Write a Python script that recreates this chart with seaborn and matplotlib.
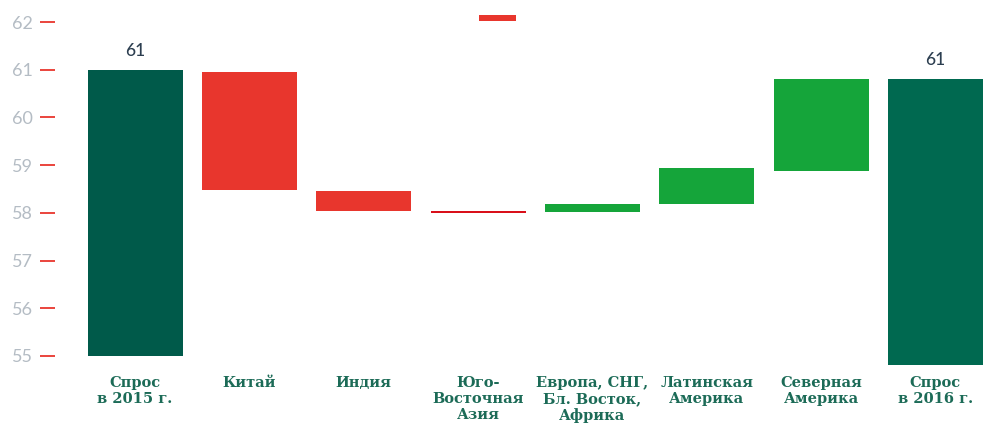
import matplotlib
matplotlib.use("Agg")
import numpy as np
import matplotlib.pyplot as plt
import seaborn as sns

# waterfall: each bar spans from low to high
categories = [
    "Спрос\nв 2015 г.",
    "Китай",
    "Индия",
    "Юго-\nВосточная\nАзия",
    "Европа, СНГ,\nБл. Восток,\nАфрика",
    "Латинская\nАмерика",
    "Северная\nАмерика",
    "Спрос\nв 2016 г.",
]
bar_low = [55.0, 58.48, 58.04, 58.00, 58.02, 58.19, 58.88, 54.81]
bar_high = [61.0, 60.96, 58.46, 58.04, 58.19, 58.94, 60.81, 60.81]
bar_colors = ["#005a4a", "#e8362d", "#e8362d", "#d9101a",
              "#15a53a", "#15a53a", "#15a53a", "#006950"]
total_labels = {0: "61", 7: "61"}

# small stray red mark above the SE Asia column
stray_x = [3.17]
stray_low = [62.03]
stray_high = [62.15]

y_ticks = [55, 56, 57, 58, 59, 60, 61, 62]

sns.set_theme(style="white")
plt.rcParams["font.family"] = ["Lato", "DejaVu Sans"]

fig = plt.figure(figsize=(9.88, 4.25), dpi=100)
ax = fig.add_axes([0.0557, 0.1388, 0.9443, 0.8494])

heights = np.array(bar_high) - np.array(bar_low)
sns.barplot(x=list(range(len(categories))), y=heights, bottom=bar_low,
            width=0.83, color="#005a4a", ax=ax, native_scale=True)
for patch, c in zip(ax.patches, bar_colors):
    patch.set_facecolor(c)
    patch.set_edgecolor("none")

ax.bar(stray_x, np.array(stray_high) - np.array(stray_low), bottom=stray_low,
       width=0.33, color="#e8362d", linewidth=0)

for i, txt in total_labels.items():
    ax.annotate(txt, (i, bar_high[i]), xytext=(0, 13.5), textcoords="offset points",
                ha="center", va="center", fontsize=12.5, color="#2c3e50",
                fontweight="medium")

ax.set_xlim(-0.70, 7.46)
ax.set_ylim(54.79, 62.356)
ax.set_yticks(y_ticks)
ax.set_yticklabels([str(t) for t in y_ticks], fontsize=13, color="#b4bcc4")
ax.tick_params(axis="y", length=10.8, width=1.3, color="#e8362d", pad=5, left=True)

ax.set_xticks(range(len(categories)))
ax.set_xticklabels(categories, fontsize=10.5, fontweight="bold", color="#1c6b57",
                   family="DejaVu Serif", linespacing=1.2)
ax.tick_params(axis="x", length=0, pad=7)
ax.set_xlabel("")
ax.set_ylabel("")
sns.despine(ax=ax, left=True, bottom=True)

fig.savefig("out.png", dpi=100)
